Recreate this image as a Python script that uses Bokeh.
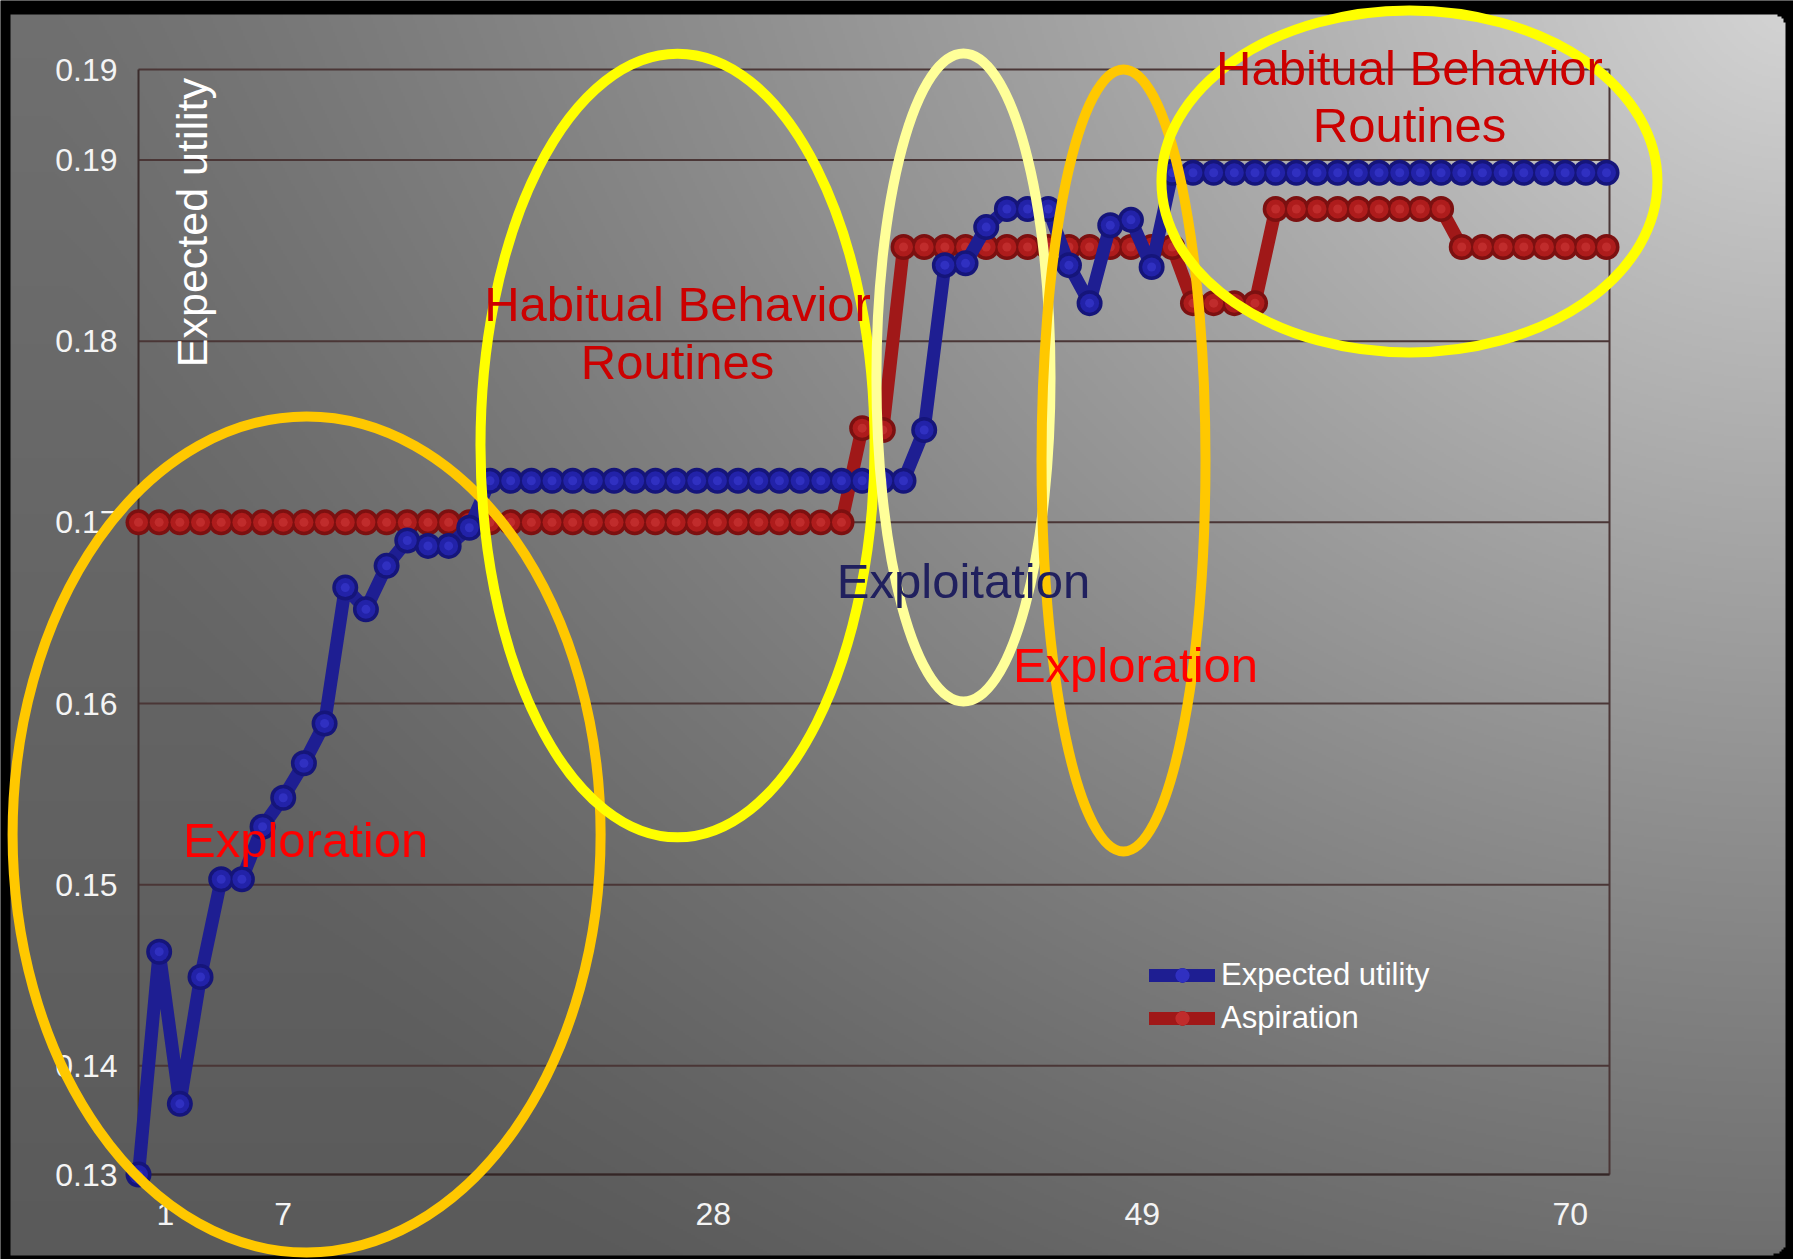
import numpy as np
from bokeh.plotting import figure
from bokeh.models import (Range1d, LinearAxis, FixedTicker, Label, Legend, LegendItem,
                          ColumnDataSource)
from bokeh.embed import file_html
from bokeh.resources import INLINE

# ---------------------------------------------------------------- data
periods = list(range(1, 73))

expected_utility = [
    0.1340, 0.1463, 0.1379, 0.1449, 0.1503, 0.1503, 0.1532, 0.1548, 0.1567, 0.1589,
    0.1664, 0.1652, 0.1676, 0.1690, 0.1687, 0.1687, 0.1697, 0.1723, 0.1723, 0.1723,
    0.1723, 0.1723, 0.1723, 0.1723, 0.1723, 0.1723, 0.1723, 0.1723, 0.1723, 0.1723,
    0.1723, 0.1723, 0.1723, 0.1723, 0.1723, 0.1723, 0.1723, 0.1723, 0.1751, 0.1842,
    0.1843, 0.1863, 0.1873, 0.1873, 0.1873, 0.1842, 0.1821, 0.1864, 0.1867, 0.1841,
    0.1893, 0.1893, 0.1893, 0.1893, 0.1893, 0.1893, 0.1893, 0.1893, 0.1893, 0.1893,
    0.1893, 0.1893, 0.1893, 0.1893, 0.1893, 0.1893, 0.1893, 0.1893, 0.1893, 0.1893,
    0.1893, 0.1893,
]

aspiration = [
    0.1700, 0.1700, 0.1700, 0.1700, 0.1700, 0.1700, 0.1700, 0.1700, 0.1700, 0.1700,
    0.1700, 0.1700, 0.1700, 0.1700, 0.1700, 0.1700, 0.1700, 0.1700, 0.1700, 0.1700,
    0.1700, 0.1700, 0.1700, 0.1700, 0.1700, 0.1700, 0.1700, 0.1700, 0.1700, 0.1700,
    0.1700, 0.1700, 0.1700, 0.1700, 0.1700, 0.1752, 0.1751, 0.1852, 0.1852, 0.1852,
    0.1852, 0.1852, 0.1852, 0.1852, 0.1852, 0.1852, 0.1852, 0.1852, 0.1852, 0.1852,
    0.1852, 0.1821, 0.1821, 0.1821, 0.1821, 0.1873, 0.1873, 0.1873, 0.1873, 0.1873,
    0.1873, 0.1873, 0.1873, 0.1873, 0.1852, 0.1852, 0.1852, 0.1852, 0.1852, 0.1852,
    0.1852, 0.1852,
]

y_ticks = [0.134, 0.14, 0.15, 0.16, 0.17, 0.18, 0.19, 0.195]
y_tick_labels = ["0.13", "0.14", "0.15", "0.16", "0.17", "0.18", "0.19", "0.19"]

x_ticks = [2.3, 8.0, 28.8, 49.55, 70.25]
x_tick_labels = ["1", "7", "28", "49", "70"]

# phase regions circled on the chart: (center period, center value, width, height, colour)
phase_regions = [
    (9.13, 0.15277, 28.44, 0.04615, "#FFC800"),
    (27.07, 0.17424, 19.06, 0.04328, "#FFFF00"),
    (40.90, 0.17800, 8.42, 0.03577, "#FFFF99"),
    (48.64, 0.17342, 7.93, 0.04317, "#FFC800"),
    (62.47, 0.18882, 23.99, 0.01888, "#FFFF00"),
]

# phase captions: (text, period, value, colour)
phase_notes = [
    ("Habitual Behavior", 27.07, 0.18208, "#CC0000"),
    ("Routines", 27.07, 0.17888, "#CC0000"),
    ("Habitual Behavior", 62.47, 0.19511, "#CC0000"),
    ("Routines", 62.47, 0.19196, "#CC0000"),
    ("Exploration", 9.08, 0.15244, "#FF0000"),
    ("Exploitation", 40.90, 0.16674, "#20205E"),
    ("Exploration", 49.22, 0.16215, "#FF0000"),
]

# ---------------------------------------------------------------- layout
W, H = 1793, 1259
PX_FIRST, PX_LAST = 138, 1606          # screen x of first / last period
PY_LO, PY_HI = 1174, 69                # screen y of axis minimum / maximum
Y_MIN, Y_MAX = y_ticks[0], y_ticks[-1]
SX = (periods[-1] - periods[0]) / (PX_LAST - PX_FIRST)
SY = (Y_MAX - Y_MIN) / (PY_LO - PY_HI)


def xd(px):
    return periods[0] + (px - PX_FIRST) * SX


def yd(py):
    return Y_MIN + (PY_LO - py) * SY


FONT = "Liberation Sans"

p = figure(width=W, height=H, title=None,
           x_range=Range1d(xd(0), xd(W)), y_range=Range1d(yd(H), yd(0)),
           x_axis_location=None, y_axis_location=None,
           output_backend="svg", toolbar_location=None,
           min_border_left=0, min_border_right=0, min_border_top=0, min_border_bottom=0,
           background_fill_color="black", border_fill_color="black",
           outline_line_color=None)
p.grid.visible = False

# ---------------------------------------------------------------- slide background
gw, gh = W // 2, H // 2
gx = np.linspace(0, W, gw)
gy = np.linspace(0, H, gh)
GX, GY = np.meshgrid(gx, gy)
dist = np.hypot(W - GX, GY)
grey = 90 + 22 * (1 - GY / H) + 100 * np.clip(1 - dist / 1750, 0, 1) ** 1.25
grey = np.clip(grey, 0, 255)
panel = (GX >= 9) & (GX <= 1786) & (GY >= 13) & (GY <= 1255)
r = 12.0
for cx, cy in ((1786 - r, 13 + r), (1786 - r, 1255 - r)):
    outside_y = (GY < cy) if cy < H / 2 else (GY > cy)
    panel &= ~((GX > cx) & outside_y & (np.hypot(GX - cx, GY - cy) > r))
rgba = np.zeros((gh, gw, 4), dtype=np.uint8)
rgba[..., 0] = rgba[..., 1] = rgba[..., 2] = np.where(panel, grey, 0).astype(np.uint8)
rgba[..., 3] = 255
img = rgba[::-1].copy().view(dtype=np.uint32).reshape(gh, gw)
p.image_rgba(image=[img], x=xd(0), y=yd(H), dw=xd(W) - xd(0), dh=yd(0) - yd(H), level="image")

# ---------------------------------------------------------------- plot area frame and gridlines
x_left, x_right = xd(138), xd(1609)
GRID = "#4a3636"
p.segment(x0=[x_left] * len(y_ticks), x1=[x_right] * len(y_ticks), y0=y_ticks, y1=y_ticks,
          line_color=GRID, line_width=2, level="underlay")
p.segment(x0=[x_left, x_right], x1=[x_left, x_right], y0=[Y_MIN, Y_MIN], y1=[Y_MAX, Y_MAX],
          line_color=["#3a2c2c", GRID], line_width=2, level="underlay")
p.segment(x0=[x_left], x1=[x_right], y0=[Y_MIN], y1=[Y_MIN],
          line_color="#332626", line_width=2, level="underlay")

# ---------------------------------------------------------------- axes
yax = LinearAxis(fixed_location=x_left, ticker=FixedTicker(ticks=y_ticks),
                 major_label_overrides=dict(zip(y_ticks, y_tick_labels)),
                 axis_line_color=None, major_tick_line_color=None, minor_tick_line_color=None,
                 major_label_standoff=15, major_label_text_color="#f4f4f4",
                 major_label_text_font=FONT, major_label_text_font_size="32px")
p.add_layout(yax, "left")

xax = LinearAxis(fixed_location=Y_MIN, ticker=FixedTicker(ticks=x_ticks),
                 major_label_overrides=dict(zip(x_ticks, x_tick_labels)),
                 axis_line_color=None, major_tick_line_color=None, minor_tick_line_color=None,
                 major_label_standoff=22, major_label_text_color="#f4f4f4",
                 major_label_text_font=FONT, major_label_text_font_size="32px")
p.add_layout(xax, "below")

# ---------------------------------------------------------------- series (beaded lines)
src = ColumnDataSource(dict(period=periods, eu=expected_utility, asp=aspiration))


def beaded(col, line_c, dark, mid, light):
    ln = p.line("period", col, source=src, line_color=line_c, line_width=13,
                line_join="round", line_cap="round", level="annotation")
    b1 = p.scatter("period", col, source=src, size=26, fill_color=dark, line_color=None,
                   level="annotation")
    b2 = p.scatter("period", col, source=src, size=19, fill_color=mid, line_color=None,
                   level="annotation")
    b3 = p.scatter("period", col, source=src, size=9, fill_color=light, fill_alpha=0.55,
                   line_color=None, level="annotation")
    return [ln, b1, b2, b3]


red_r = beaded("asp", "#a01818", "#7c1010", "#ae1c1c", "#d03a3a")
blue_r = beaded("eu", "#1e1e92", "#15157a", "#2222a8", "#3c3cd6")

# ---------------------------------------------------------------- phase ellipses
p.ellipse(x=[e[0] for e in phase_regions], y=[e[1] for e in phase_regions],
          width=[e[2] for e in phase_regions], height=[e[3] for e in phase_regions],
          fill_color=None, line_color=[e[4] for e in phase_regions], line_width=10,
          level="annotation")

# ---------------------------------------------------------------- captions
for text, px_, py_, col in phase_notes:
    p.add_layout(Label(x=px_, y=py_, text=text, text_color=col, text_font=FONT,
                       text_font_size="49px", text_align="center", text_baseline="middle",
                       level="overlay"))

p.add_layout(Label(x=3.61, y=0.18655, text="Expected utility", angle=np.pi / 2,
                   text_color="white", text_font=FONT, text_font_size="43px",
                   text_align="center", text_baseline="middle", level="overlay"))

# ---------------------------------------------------------------- legend
legend = Legend(items=[LegendItem(label="Expected utility", renderers=blue_r),
                       LegendItem(label="Aspiration", renderers=red_r)],
                location=(1149, H - 1036), orientation="vertical",
                padding=0, margin=0, spacing=7, glyph_width=66, glyph_height=36,
                label_height=36, label_standoff=6,
                label_text_font=FONT, label_text_font_size="31px", label_text_color="white",
                background_fill_alpha=0, border_line_color=None, level="overlay")
p.add_layout(legend)

open("out.html", "w").write(file_html(p, INLINE))
